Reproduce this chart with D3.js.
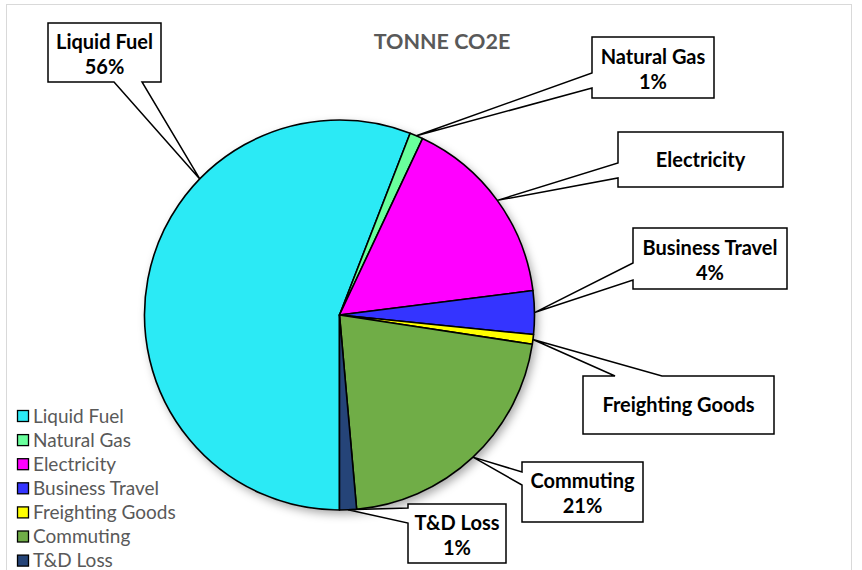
<!DOCTYPE html>
<html>
<head>
<meta charset="utf-8">
<script src="https://cdn.jsdelivr.net/npm/d3@7"></script>
<style>
  html, body { margin: 0; padding: 0; background: #fff; }
  svg { display: block; font-family: Lato, "Open Sans", sans-serif; }
</style>
</head>
<body>
<svg id="chart" width="862" height="570"></svg>
<script>
// data (share of tonne CO2e, in %)
const categories = ['Liquid Fuel', 'Natural Gas', 'Electricity', 'Business Travel', 'Freighting Goods', 'Commuting', 'T&D Loss']
const values = [55.9, 1.1, 16.0, 3.6, 0.8, 21.2, 1.4]
const colors = ['#2BEAF5', '#69FF9C', '#FF00FF', '#3434FF', '#FFFF00', '#70AD47', '#254478']
const showPercent = [true, true, false, true, false, true, true]

// callout boxes, placed by hand like in the original
const callouts = [
  {box: [48, 23, 113, 59], side: 'bottom', base: [114, 142], tipAt: 0.667},
  {box: [592, 37, 122, 61], side: 'left', base: [73, 88], tipAt: 0.5},
  {box: [618, 132, 165, 55], side: 'left', base: [163, 178], tipAt: 0.5},
  {box: [633, 228, 154, 61], side: 'left', base: [263, 280], tipAt: 0.5},
  {box: [583, 376, 191, 58], side: 'top', base: [615, 662], tipAt: 0.5},
  {box: [522, 462, 121, 60], side: 'left', base: [472, 485], tipAt: 0.5},
  {box: [408, 504, 98, 59], side: 'left', base: [508, 523], tipAt: 0.5}
]

const cx = 339.5, cy = 315, radius = 195

const svg = d3.select('#chart')

const defs = svg.append('defs')
defs.append('filter')
  .attr('id', 'shadow')
  .attr('x', '-20%').attr('y', '-20%')
  .attr('width', '140%').attr('height', '140%')
  .append('feDropShadow')
  .attr('dx', 3).attr('dy', 4)
  .attr('stdDeviation', 5)
  .attr('flood-color', '#000')
  .attr('flood-opacity', 0.35)

// chart area border
svg.append('rect')
  .attr('x', 6.5).attr('y', 4.5)
  .attr('width', 845).attr('height', 580)
  .attr('fill', 'none')
  .attr('stroke', '#d9d9d9')
  .attr('stroke-width', 1)

svg.append('text')
  .attr('x', 442).attr('y', 49)
  .attr('text-anchor', 'middle')
  .attr('font-weight', 'bold')
  .attr('font-size', '21.5px')
  .attr('fill', '#595959')
  .text('TONNE CO2E')

const total = d3.sum(values)
const pie = d3.pie().sort(null).startAngle(Math.PI).endAngle(3 * Math.PI)
const slices = pie(values)
const arc = d3.arc().innerRadius(0).outerRadius(radius)

const pieGroup = svg.append('g')
  .attr('transform', `translate(${cx}, ${cy})`)

pieGroup.append('g')
  .attr('filter', 'url(#shadow)')
  .append('circle')
  .attr('r', radius)
  .attr('fill', '#fff')

pieGroup.selectAll('path.slice')
  .data(slices)
  .join('path')
  .attr('class', 'slice')
  .attr('d', arc)
  .attr('fill', (d, i) => colors[i])
  .attr('stroke', '#000')
  .attr('stroke-width', 1.6)
  .attr('stroke-linejoin', 'round')

function calloutPath(c, tip) {
  const [x, y, w, h] = c.box
  const [a, b] = c.base
  const t = `${tip[0]},${tip[1]}`
  if (c.side === 'left')
    return `M${x},${y}H${x + w}V${y + h}H${x}V${b}L${t}L${x},${a}Z`
  if (c.side === 'bottom')
    return `M${x},${y}H${x + w}V${y + h}H${b}L${t}L${a},${y + h}H${x}Z`
  return `M${x},${y}H${a}L${t}L${b},${y}H${x + w}V${y + h}H${x}Z`
}

const labelGroup = svg.append('g')

slices.forEach((s, i) => {
  const c = callouts[i]
  const ang = s.startAngle + (s.endAngle - s.startAngle) * c.tipAt
  const tip = [cx + radius * Math.sin(ang), cy - radius * Math.cos(ang)]
  labelGroup.append('path')
    .attr('d', calloutPath(c, tip))
    .attr('fill', '#fff')
    .attr('stroke', '#000')
    .attr('stroke-width', 1.5)
    .attr('stroke-linejoin', 'miter')

  const [x, y, w, h] = c.box
  const mid = y + h / 2
  const lines = showPercent[i]
    ? [categories[i], Math.round(values[i] / total * 100) + '%']
    : [categories[i]]
  const t = labelGroup.append('text')
    .attr('text-anchor', 'middle')
    .attr('font-weight', 'bold')
    .attr('font-size', '20px')
    .attr('fill', '#000')
  lines.forEach((line, k) => {
    t.append('tspan')
      .attr('x', x + w / 2)
      .attr('y', lines.length === 2 ? mid - 4 + k * 25 : mid + 7)
      .text(line)
  })
})

// legend
const legend = svg.append('g')
  .attr('transform', 'translate(17, 416)')

const item = legend.selectAll('g')
  .data(categories)
  .join('g')
  .attr('transform', (d, i) => `translate(0, ${i * 24.1})`)

item.append('rect')
  .attr('x', 0.5).attr('y', -5.5)
  .attr('width', 11).attr('height', 11)
  .attr('fill', (d, i) => colors[i])
  .attr('stroke', '#000')
  .attr('stroke-width', 1.3)

item.append('text')
  .attr('x', 16).attr('y', 6.5)
  .attr('font-size', '19px')
  .attr('fill', '#595959')
  .text(d => d)
</script>
</body>
</html>
